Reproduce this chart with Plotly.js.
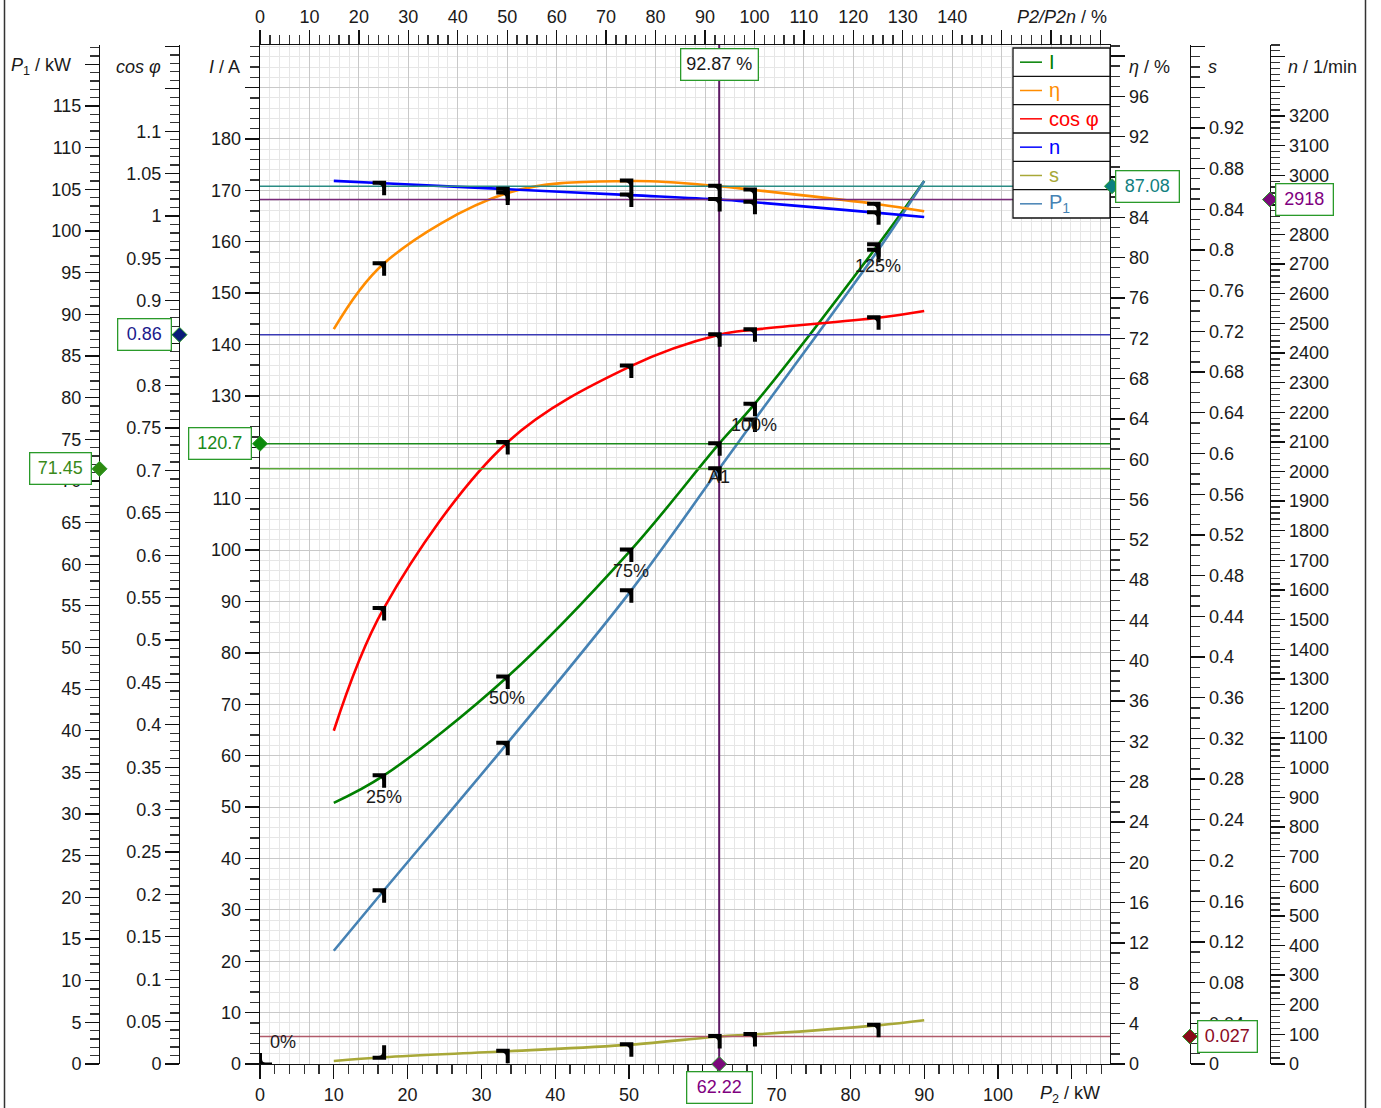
<!DOCTYPE html>
<html><head><meta charset="utf-8">
<script src="https://cdn.plot.ly/plotly-3.0.1.min.js"></script>
<style>html,body{margin:0;padding:0;background:#fff}#chart{width:1381px;height:1108px}</style>
</head><body><div id="chart"></div>
<script>
// ---------------- data ----------------
const P2_kW   = [10, 16.75, 33.5, 50.25, 62.22, 67, 83.75, 90];
const I_A     = [50.8, 56.1, 75.3, 100.0, 120.7, 128.4, 159.4, 171.8];
const P1_kW   = [13.6, 20.8, 38.5, 56.8, 71.45, 77.3, 97.7, 106.0];
const eta_pct = [72.9, 79.4, 86.4, 87.6, 87.08, 86.7, 85.3, 84.6];
const cosPhi  = [0.393, 0.537, 0.733, 0.823, 0.86, 0.866, 0.880, 0.888];
const n_rpm   = [2981, 2973, 2953, 2933, 2918, 2909, 2873, 2859];
const slip    = [0.003, 0.0067, 0.0125, 0.019, 0.027, 0.029, 0.038, 0.043];
const markerIdx  = [1, 2, 3, 4, 5, 6];
const markerText = ['25%', '50%', '75%', 'A1', '100%', '125%'];
const P2n = 67;                       // rated output, kW
const opP2 = 62.22, opI = 120.7, opP1 = 71.45, opCos = 0.86, opEta = 87.08, opN = 2918, opS = 0.027;
const seriesNames = ['I', 'η', 'cos φ', 'n', 's', 'P<sub>1</sub>'];

// ---------------- layout geometry ----------------
const W = 1381, H = 1108;
const L = 260, R = 1110, T = 45, B = 1064;
const px = v => v / W, py = v => (H - v) / H;
const dom = [py(B), py(T)];
const F = '"Liberation Sans", Arial, sans-serif';
const INK = '#1a1a1a';

const C = {I:'#008000', eta:'#ff8c00', cos:'#ff0000', n:'#0000ff', s:'#a8a838', P1:'#4682b4'};

// tick labels that sit fully behind a value box are left blank
function tk(step, maxLab, maxTick, dec, hidden) {
  const vals = [], txt = [];
  hidden = hidden || [];
  for (let k = 0; k * step <= maxTick + 1e-9; k++) {
    const v = +(k * step).toFixed(6);
    vals.push(v);
    const hide = v > maxLab + 1e-9 || hidden.some(h => Math.abs(h - v) < 1e-9);
    txt.push(hide ? '' : String(+v.toFixed(dec)));
  }
  return {tickvals: vals, ticktext: txt};
}
function axis(extra, minorDtick) {
  return Object.assign({
    showline: true, linecolor: '#111', linewidth: 1.3,
    ticks: 'outside', ticklen: 14, tickwidth: 1.3, tickcolor: '#111',
    tickfont: {family: F, size: 18, color: INK},
    showgrid: false, zeroline: false, tickmode: 'array', fixedrange: true, automargin: false,
    minor: {tickmode: 'linear', tick0: 0, dtick: minorDtick, ticks: 'outside', ticklen: 9, tickwidth: 1.3, tickcolor: '#333', showgrid: false}
  }, extra);
}

const xMax = (R - L) / 7.38;
const layout = {
  width: W, height: H, margin: {l: 0, r: 0, t: 0, b: 0},
  paper_bgcolor: '#fff', plot_bgcolor: '#fff', showlegend: false, hovermode: false,
  font: {family: F, size: 18, color: INK},
  xaxis: axis(Object.assign({domain: [px(L), px(R)], range: [0, xMax], anchor: 'y', side: 'bottom'}, tk(10, 100, 110, 0, [60])), 2),
  xaxis2: axis(Object.assign({domain: [px(L), px(R)], range: [0, xMax / P2n * 100], overlaying: 'x', anchor: 'y', side: 'top',
    showgrid: true, gridcolor: '#c9c9c9', gridwidth: 1}, tk(10, 140, 170, 0)), 2),
  yaxis: axis(Object.assign({domain: dom, range: [0, (B - T) / 5.139], anchor: 'x', side: 'left',
    showgrid: true, gridcolor: '#c9c9c9', gridwidth: 1}, tk(10, 180, 190, 0, [120])), 2),
  yaxis2: axis(Object.assign({domain: dom, range: [0, (B - T) / 8.33], overlaying: 'y', anchor: 'free', position: px(99), side: 'left'}, tk(5, 115, 120, 0)), 1),
  yaxis3: axis(Object.assign({domain: dom, range: [0, (B - T) / 848], overlaying: 'y', anchor: 'free', position: px(179), side: 'left'}, tk(0.05, 1.1, 1.2, 2, [0.85])), 0.01),
  yaxis4: axis(Object.assign({domain: dom, range: [0, (B - T) / 10.08], overlaying: 'y', anchor: 'x', side: 'right'}, tk(4, 96, 100, 0, [88])), 1),
  yaxis5: axis(Object.assign({domain: dom, range: [0, (B - T) / 1017.5], overlaying: 'y', anchor: 'free', position: px(1190), side: 'right'}, tk(0.04, 0.92, 1.0, 2)), 0.01),
  yaxis6: axis(Object.assign({domain: dom, range: [0, (B - T) / 0.29625], overlaying: 'y', anchor: 'free', position: px(1270), side: 'right'}, tk(100, 3200, 3400, 0, [2900])), 20),
  shapes: [], annotations: []
};
layout.xaxis2.minor.showgrid = true; layout.xaxis2.minor.gridcolor = '#e6e6e6';
layout.yaxis.minor.showgrid = true;  layout.yaxis.minor.gridcolor = '#e6e6e6';

// ---------------- traces ----------------
const curves = [
  {name: 'I',     y: I_A,     ax: 'y',  c: C.I},
  {name: 'η',     y: eta_pct, ax: 'y4', c: C.eta},
  {name: 'cos φ', y: cosPhi,  ax: 'y3', c: C.cos},
  {name: 'n',     y: n_rpm,   ax: 'y6', c: C.n},
  {name: 's',     y: slip,    ax: 'y5', c: C.s},
  {name: 'P1',    y: P1_kW,   ax: 'y2', c: C.P1}
];
const data = curves.map(cv => ({
  type: 'scatter', mode: 'lines', name: cv.name, x: P2_kW, y: cv.y, xaxis: 'x', yaxis: cv.ax,
  line: {color: cv.c, width: 2.6, shape: 'spline', smoothing: 1}, hoverinfo: 'skip'
}));
data.push({type: 'scatter', mode: 'markers', x: [0], y: [0], xaxis: 'x2', yaxis: 'y', marker: {opacity: 0}, hoverinfo: 'skip'});

// ---------------- shapes ----------------
const S = layout.shapes;
// operating point reference lines
S.push({type: 'line', xref: 'x', yref: 'paper', x0: opP2, x1: opP2, y0: dom[0], y1: dom[1], line: {color: '#5e1a66', width: 2}});
[[opI, 'y', '#1c8c1c'], [opP1, 'y2', '#5aa83a'], [opCos, 'y3', '#3a3ab4'], [opEta, 'y4', '#2a8c84'], [opN, 'y6', '#7a2a7a'], [opS, 'y5', '#b05a6a']]
  .forEach(([v, ax, c]) => S.push({type: 'line', xref: 'paper', yref: ax, x0: px(L), x1: px(R), y0: v, y1: v, line: {color: c, width: 1.5}}));

// load point flags
const FLAG_DOWN = 'M -11 2.5 L 2.5 2.5 L 2.5 -12 L -1.5 -12 L -1.5 -5 Q -1.5 -1.5 -5 -1.5 L -11 -1.5 Z';
const FLAG_UP   = 'M -11 -2.5 L 2.5 -2.5 L 2.5 12 L -1.5 12 L -1.5 5 Q -1.5 1.5 -5 1.5 L -11 1.5 Z';
const FLAG_ZERO = 'M 12 -2 L -1.5 -2 L -1.5 11 L 2 11 L 2 5 Q 2 1.5 5.5 1.5 L 12 1.5 Z';
function flag(xv, yv, ax, path) {
  S.push({type: 'path', xref: 'x', yref: ax, xsizemode: 'pixel', ysizemode: 'pixel', xanchor: xv, yanchor: yv,
          path: path, fillcolor: '#000', line: {color: 'rgba(0,0,0,0)', width: 0}});
}
curves.forEach(cv => markerIdx.forEach(i => {
  const up = (cv.name === 's' && i === 1);
  flag(P2_kW[i], cv.y[i], cv.ax, up ? FLAG_UP : FLAG_DOWN);
}));
flag(0, 0, 'y', FLAG_ZERO);

// legend box
const LG = {x0: 1013, x1: 1110, y0: 48, row: 28.33};
S.push({type: 'rect', xref: 'paper', yref: 'paper', x0: px(LG.x0), x1: px(LG.x1), y0: py(LG.y0 + 6 * LG.row), y1: py(LG.y0),
        fillcolor: '#fff', line: {color: '#111', width: 1.3}});
curves.forEach((cv, k) => {
  const yc = LG.y0 + (k + 0.5) * LG.row;
  if (k > 0) S.push({type: 'line', xref: 'paper', yref: 'paper', x0: px(LG.x0), x1: px(LG.x1), y0: py(LG.y0 + k * LG.row), y1: py(LG.y0 + k * LG.row), line: {color: '#111', width: 1.3}});
  S.push({type: 'line', xref: 'paper', yref: 'paper', x0: px(1020), x1: px(1042), y0: py(yc), y1: py(yc), line: {color: cv.c, width: 1.5}});
  layout.annotations.push({xref: 'paper', yref: 'paper', x: px(1047), y: py(yc), xanchor: 'left', yanchor: 'middle', showarrow: false,
    text: seriesNames[k], font: {family: F, size: 20, color: cv.c}});
});

// diamonds on the axes
const DIA = 'M 0 7.5 L 7.5 0 L 0 -7.5 L -7.5 0 Z';
function diamond(xref, xa, yref, ya, fill) {
  S.push({type: 'path', xref: xref, yref: yref, xsizemode: 'pixel', ysizemode: 'pixel', xanchor: xa, yanchor: ya,
          path: DIA, fillcolor: fill, line: {color: '#2a9a2a', width: 1}});
}
diamond('paper', px(L), 'y', opI, '#0a8a0a');
diamond('paper', px(99.5), 'y2', opP1, '#2e8a10');
diamond('paper', px(179.5), 'y3', opCos, '#0a1a78');
diamond('paper', px(R + 2), 'y4', opEta, '#0a8080');
diamond('paper', px(1190), 'y5', opS, '#8a0a1a');
diamond('paper', px(1270), 'y6', opN, '#7a0a7a');
diamond('x', opP2, 'paper', dom[0], '#7a0a7a');

// outer frame lines
S.push({type: 'line', xref: 'paper', yref: 'paper', x0: px(4.5), x1: px(4.5), y0: 0, y1: 1, line: {color: '#333', width: 1.5}});
S.push({type: 'line', xref: 'paper', yref: 'paper', x0: px(1365.5), x1: px(1365.5), y0: 0, y1: 1, line: {color: '#333', width: 1.5}});

// ---------------- annotations ----------------
const A = layout.annotations;
function box(o) {
  A.push(Object.assign({showarrow: false, bgcolor: '#fff', bordercolor: '#2a9a2a', borderwidth: 1.3, borderpad: 4, height: 22,
    font: {family: F, size: 18, color: INK}}, o));
}
box({xref: 'x', x: opP2, yref: 'paper', y: py(48), xanchor: 'center', yanchor: 'top', width: 68, text: (opP2 / P2n * 100).toFixed(2) + ' %'});
box({xref: 'x', x: opP2, yref: 'paper', y: py(1071), xanchor: 'center', yanchor: 'top', width: 56, text: opP2.toFixed(2), font: {family: F, size: 18, color: '#800080'}});
box({xref: 'paper', x: px(L), xshift: -8, xanchor: 'right', yref: 'y', y: opI, yanchor: 'middle', width: 53, text: String(opI), font: {family: F, size: 18, color: '#1a8a1a'}});
box({xref: 'paper', x: px(99), xshift: -7, xanchor: 'right', yref: 'y2', y: opP1, yanchor: 'middle', width: 52, text: String(opP1), font: {family: F, size: 18, color: '#3a8a1a'}});
box({xref: 'paper', x: px(179), xshift: -7, xanchor: 'right', yref: 'y3', y: opCos, yanchor: 'middle', width: 44, text: String(opCos), font: {family: F, size: 18, color: '#1a1a8c'}});
box({xref: 'paper', x: px(R), xshift: 5, xanchor: 'left', yref: 'y4', y: opEta, yanchor: 'middle', width: 54, text: String(opEta), font: {family: F, size: 18, color: '#108080'}});
box({xref: 'paper', x: px(1190), xshift: 7, xanchor: 'left', yref: 'y5', y: opS, yanchor: 'middle', width: 50, text: String(opS), font: {family: F, size: 18, color: '#8b0a24'}});
box({xref: 'paper', x: px(1270), xshift: 5, xanchor: 'left', yref: 'y6', y: opN, yanchor: 'middle', width: 48, text: String(opN), font: {family: F, size: 18, color: '#800080'}});

// load point labels
markerIdx.forEach((i, k) => {
  A.push({xref: 'x', yref: 'y', x: P2_kW[i], y: I_A[i], yshift: markerText[k] === 'A1' ? -33 : -21, showarrow: false,
    text: markerText[k], font: {family: F, size: 18, color: INK}});
});
A.push({xref: 'x', yref: 'y', x: 0, y: 0, xshift: 23, yshift: 22, showarrow: false, text: '0%', font: {family: F, size: 18, color: INK}});

// axis titles
function title(x, y, xanchor, text) {
  A.push({xref: 'paper', yref: 'paper', x: px(x), y: py(y), xanchor: xanchor, yanchor: 'middle', showarrow: false, text: text,
    font: {family: F, size: 18, color: INK}});
}
title(73, 67, 'right', '<i>P</i><sub>1</sub> / kW');
title(163, 67, 'right', '<i>cos φ</i>');
title(242, 67, 'right', '<i>I</i> / A');
title(1127, 67, 'left', '<i>η</i> / %');
title(1206, 67, 'left', '<i>s</i>');
title(1286, 67, 'left', '<i>n</i> / 1/min');
title(1109, 17, 'right', '<i>P2/P2n</i> / %');
title(1102, 1094, 'right', '<i>P</i><sub>2</sub> / kW');

Plotly.newPlot('chart', data, layout, {staticPlot: true, displayModeBar: false});
</script>
</body></html>
